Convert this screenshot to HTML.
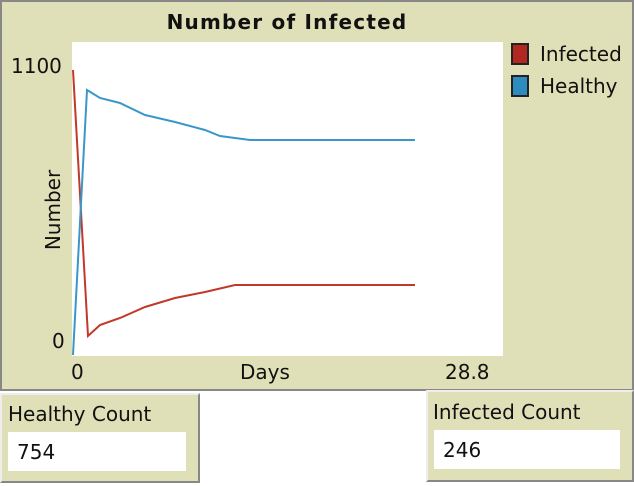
<!DOCTYPE html>
<html><head><style>
body{margin:0;width:634px;height:486px;background:#fff;font-family:"DejaVu Sans","Liberation Sans",sans-serif;position:relative;overflow:hidden}
.p{position:absolute;background:#e0e0b8;border:2px solid;border-color:#eee #888 #888 #eee;box-sizing:border-box}
.t{position:absolute;font-size:20px;color:#111;white-space:nowrap}
.f{position:absolute;background:#fff}
</style></head><body>
<div class="p" style="left:0;top:0;width:634px;height:391px;border-color:#888"></div>
<div class="t" style="left:0;width:574px;top:10px;text-align:center;font-weight:bold;font-size:20px;letter-spacing:1.2px">Number of Infected</div>
<div class="f" style="left:72px;top:42px;width:431px;height:314px"></div>
<div class="t" style="left:11px;top:54px">1100</div>
<div class="t" style="left:52px;top:329px">0</div>
<div class="t" style="left:71px;top:360px">0</div>
<div class="t" style="left:240px;top:360px">Days</div>
<div class="t" style="left:445px;top:360px">28.8</div>
<div class="t" style="left:3px;top:198px;transform:rotate(-90deg);transform-origin:center;width:100px;text-align:center">Number</div>
<div style="position:absolute;left:511px;top:43px;width:18px;height:22px;background:#b02820;border:2px solid #222;box-sizing:border-box"></div>
<div style="position:absolute;left:511px;top:75px;width:18px;height:22px;background:#2e8bbf;border:2px solid #222;box-sizing:border-box"></div>
<div class="t" style="left:540px;top:42px">Infected</div>
<div class="t" style="left:540px;top:74px">Healthy</div>
<svg style="position:absolute;left:0;top:0" width="634" height="486">
<polyline fill="none" stroke="#c0392b" stroke-width="2" points="73,70 88,336 100,325 120,318 145,307 175,298 205,292 235,285 250,285 415,285"/>
<polyline fill="none" stroke="#3a97c9" stroke-width="2" points="73,355 87,90 100,98 120,103 145,115 175,122 205,130 220,136 250,140 415,140"/>
</svg>
<div class="p" style="left:0;top:393px;width:200px;height:90px"></div>
<div class="t" style="left:8px;top:402px">Healthy Count</div>
<div class="f" style="left:8px;top:432px;width:178px;height:39px"></div>
<div class="t" style="left:17px;top:440px">754</div>
<div class="p" style="left:426px;top:390px;width:208px;height:92px"></div>
<div class="t" style="left:433px;top:400px">Infected Count</div>
<div class="f" style="left:434px;top:430px;width:186px;height:39px"></div>
<div class="t" style="left:443px;top:438px">246</div>
</body></html>
